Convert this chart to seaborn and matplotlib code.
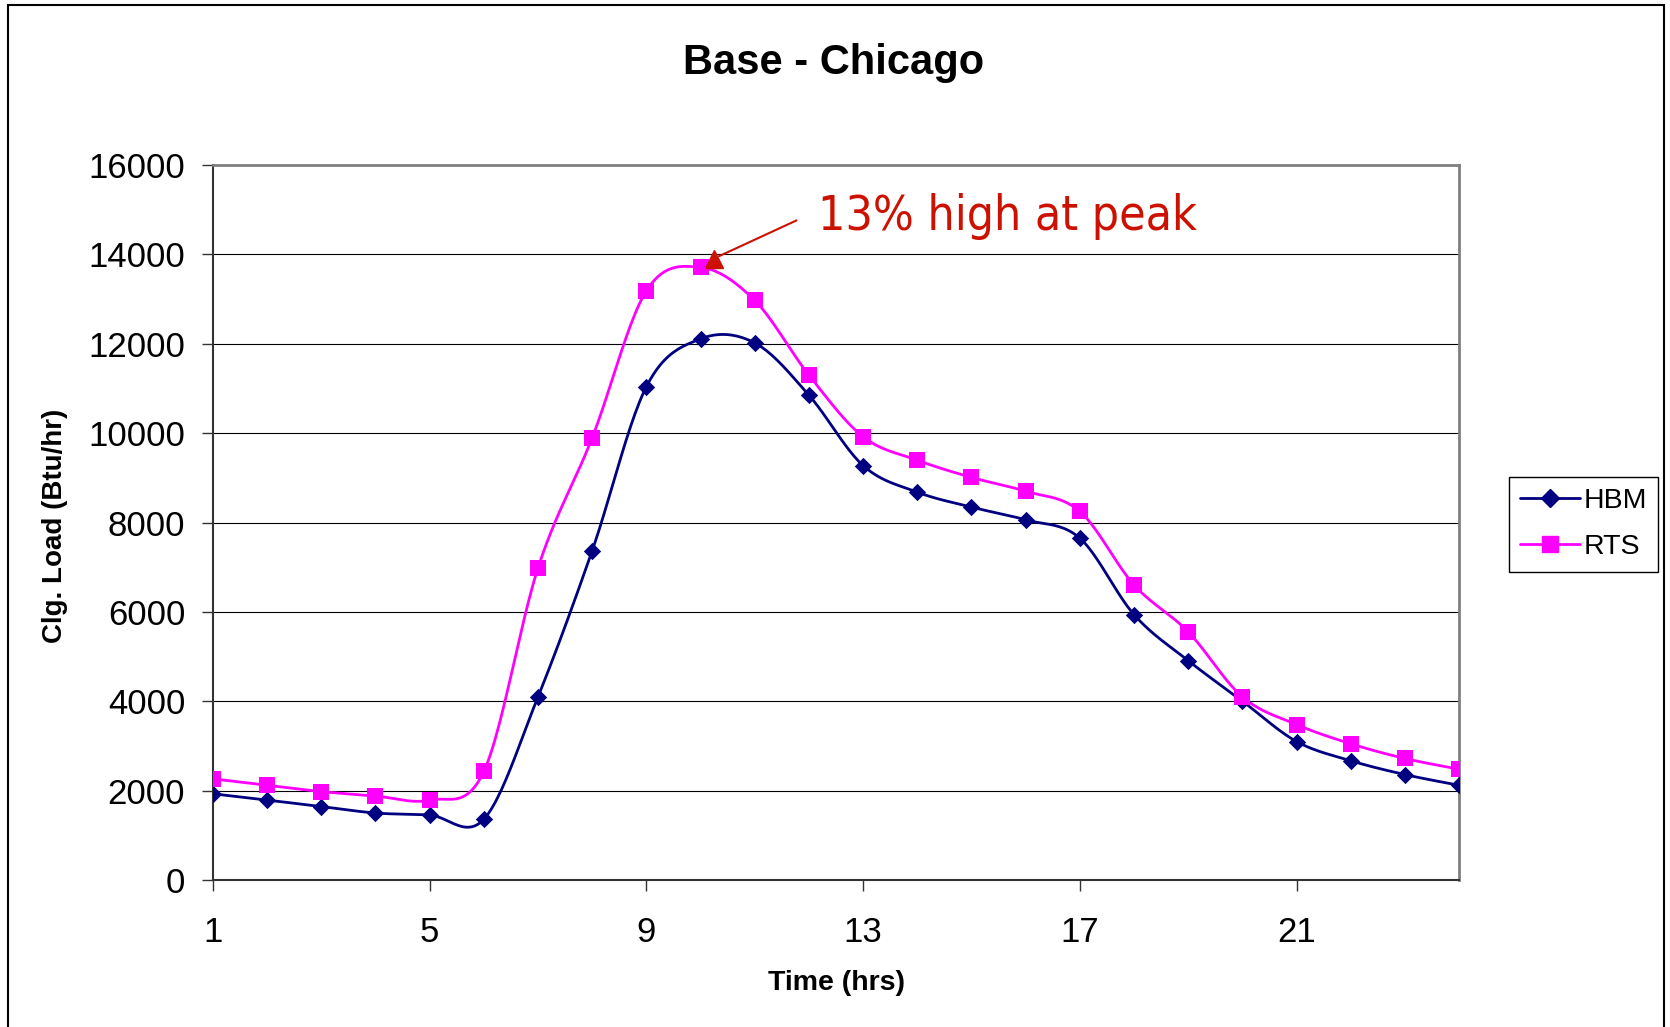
import numpy as np
import pandas as pd
import seaborn as sns
import matplotlib.pyplot as plt
from matplotlib.lines import Line2D
from matplotlib.patches import Rectangle

# ---- data ----
hours = list(range(1, 25))
hbm = [1930, 1790, 1645, 1500, 1455, 1360, 4100, 7370, 11040, 12110, 12020, 10850,
       9275, 8680, 8345, 8060, 7650, 5940, 4910, 4005, 3100, 2670, 2360, 2120]
rts = [2265, 2120, 1980, 1880, 1790, 2430, 6985, 9895, 13185, 13710, 12970, 11300,
       9920, 9395, 9010, 8700, 8250, 6605, 5555, 4100, 3480, 3050, 2720, 2480]
series_names = ["HBM", "RTS"]
x_ticks = [1, 5, 9, 13, 17, 21]
y_ticks = [0, 2000, 4000, 6000, 8000, 10000, 12000, 14000, 16000]
title = "Base - Chicago"
x_label = "Time (hrs)"
y_label = "Clg. Load (Btu/hr)"
note = "13% high at peak"

colors = {"HBM": "#000080", "RTS": "#FF00FF"}
markers = {"HBM": "D", "RTS": "s"}
red = "#CC1100"


def smooth_curve(x, y, n=24):
    """Excel-style smoothed line: cubic Bezier with Catmull-Rom control points."""
    x = np.asarray(x, float)
    y = np.asarray(y, float)
    P = np.column_stack([x, y])
    Pe = np.vstack([P[0], P, P[-1]])
    t = np.linspace(0, 1, n, endpoint=False)[:, None]
    out = []
    for i in range(len(P) - 1):
        p0, p1, p2, p3 = Pe[i], Pe[i + 1], Pe[i + 2], Pe[i + 3]
        c1 = p1 + (p2 - p0) / 6.0
        c2 = p2 - (p3 - p1) / 6.0
        seg = ((1 - t) ** 3) * p1 + 3 * ((1 - t) ** 2) * t * c1 + 3 * (1 - t) * t ** 2 * c2 + t ** 3 * p2
        out.append(seg)
    out.append(P[-1][None, :])
    out = np.vstack(out)
    return out[:, 0], out[:, 1]


points = pd.DataFrame({
    "hour": hours * 2,
    "load": hbm + rts,
    "series": ["HBM"] * len(hours) + ["RTS"] * len(hours),
})
curve_parts = []
for name, vals in zip(series_names, [hbm, rts]):
    cx, cy = smooth_curve(hours, vals)
    curve_parts.append(pd.DataFrame({"hour": cx, "load": cy, "series": name}))
curves = pd.concat(curve_parts, ignore_index=True)

sns.set_theme(style="white")
plt.rcParams["font.family"] = ["Liberation Sans", "DejaVu Sans"]
plt.rcParams["text.color"] = "black"
plt.rcParams["axes.labelcolor"] = "black"

fig = plt.figure(figsize=(16.7, 10.27), dpi=100)
ax = fig.add_axes([0.1275, 0.1431, 0.7462, 0.6962])

sns.lineplot(data=curves, x="hour", y="load", hue="series", hue_order=series_names,
             palette=colors, sort=False, estimator=None, legend=False, lw=2.0, ax=ax, zorder=3)
for name in series_names:
    sub = points[points["series"] == name]
    sns.scatterplot(data=sub, x="hour", y="load", color=colors[name], marker=markers[name],
                    s=78 if name == "HBM" else 125, linewidth=0, legend=False, ax=ax, zorder=4)

ax.set_xlim(1, 24)
ax.set_ylim(0, 16000)
ax.set_xticks(x_ticks)
ax.set_yticks(y_ticks)
ax.set_xlabel("")
ax.set_ylabel("")
ax.yaxis.grid(True, color="black", lw=0.8)
ax.xaxis.grid(False)
ax.set_axisbelow(True)
ax.tick_params(axis="both", direction="out", length=8, width=1, color="#333333",
               labelsize=25, labelcolor="black", bottom=True, left=True)
ax.tick_params(axis="x", pad=18)
ax.tick_params(axis="y", pad=12)
for side in ["left", "bottom"]:
    ax.spines[side].set_color("#333333")
    ax.spines[side].set_linewidth(1.5)
for side in ["top", "right"]:
    ax.spines[side].set_color("#808080")
    ax.spines[side].set_linewidth(2.0)

# annotation near RTS peak
pk = int(np.argmax(rts))
px, py = hours[pk], rts[pk]
tip = (px + 0.24, py + 190)
start = (px + 1.77, py + 1050)
ax.plot([start[0], tip[0] + 0.1], [start[1], tip[1] + 60], color=red, lw=1.5, zorder=5)
ax.plot([tip[0]], [tip[1]], marker="^", ms=13.5, color=red, mec=red, zorder=6)
ax.text(px + 2.17, py + 835, note, color=red, fontsize=34.5, family="DejaVu Sans",
        fontstretch="condensed", va="baseline", ha="left")

fig.text(0.4994, 0.9276, title, ha="center", va="baseline", fontsize=30, fontweight="bold")
fig.text(0.5006, 0.036, x_label, ha="center", va="baseline", fontsize=20.5, fontweight="bold")
fig.text(0.0332, 0.488, y_label, ha="center", va="center", rotation=90, fontsize=20, fontweight="bold")

handles = [Line2D([0], [0], color=colors[n], lw=2, marker=markers[n],
                  ms=8.8 if n == "HBM" else 11, mec=colors[n]) for n in series_names]
leg = fig.legend(handles, series_names, loc="upper left", bbox_to_anchor=(0.9036, 0.5355),
                 frameon=True, fancybox=False, edgecolor="black", framealpha=1, fontsize=20.5,
                 handlelength=2.1, handletextpad=0.12, labelspacing=0.7, borderpad=0.4,
                 borderaxespad=0)
leg.get_frame().set_linewidth(1.0)

fig.patches.append(Rectangle((8 / 1670, -0.02), (1664 - 8) / 1670, 1 - 5 / 1027 + 0.02,
                             transform=fig.transFigure, fill=False, edgecolor="black", lw=1.5))

fig.savefig("out.png", dpi=100)
